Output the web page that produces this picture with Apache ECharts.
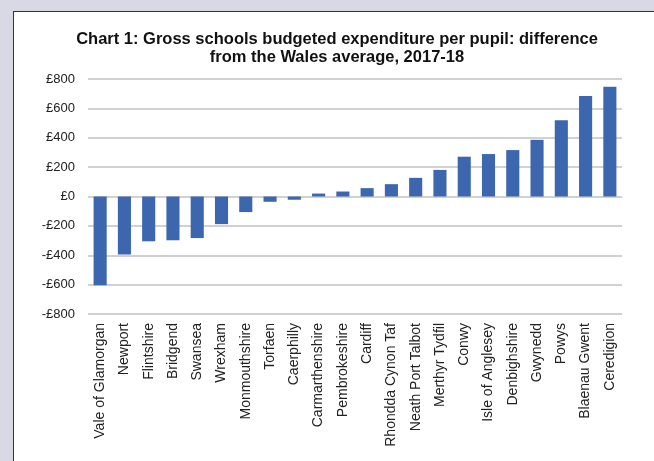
<!DOCTYPE html>
<html><head><meta charset="utf-8">
<script src="https://cdn.jsdelivr.net/npm/echarts@6/dist/echarts.min.js"></script>
<style>
html,body{margin:0;padding:0;width:654px;height:461px;overflow:hidden;background:#d9d9e5;}
#panel{position:absolute;left:13px;top:11px;right:0;bottom:0;background:#fff;border-left:1.5px solid #333;border-top:1.5px solid #333;}
#c{position:absolute;left:0;top:0;width:654px;height:461px;}
</style></head><body>
<div id="panel"></div>
<div id="c"></div>
<script>
const categories = ["Vale of Glamorgan","Newport","Flintshire","Bridgend","Swansea","Wrexham","Monmouthshire","Torfaen","Caerphilly","Carmarthenshire","Pembrokeshire","Cardiff","Rhondda Cynon Taf","Neath Port Talbot","Merthyr Tydfil","Conwy","Isle of Anglesey","Denbighshire","Gwynedd","Powys","Blaenau Gwent","Ceredigion"];
const values = [-605,-395,-305,-298,-283,-188,-106,-36,-22,20,34,57,84,127,181,271,289,316,386,520,685,748];
const titleText = "Chart 1: Gross schools budgeted expenditure per pupil: difference\nfrom the Wales average, 2017-18";
const chart = echarts.init(document.getElementById('c'), null, {renderer:'canvas'});
chart.setOption({
  backgroundColor:'transparent',
  animation:false,
  title:{text:titleText,left:332,top:25,textAlign:'center',
    textStyle:{fontFamily:'Liberation Sans, Arial',fontSize:16.5,fontWeight:'bold',color:'#111',lineHeight:18}},
  grid:{left:88,right:32,top:79,bottom:147,containLabel:false},
  xAxis:{type:'category',data:categories,
    axisLine:{show:false},axisTick:{show:false},
    axisLabel:{rotate:90,interval:0,margin:9,fontFamily:'Liberation Sans, Arial',fontSize:14,color:'#222'}},
  yAxis:{type:'value',min:-800,max:800,interval:200,
    axisLine:{show:false},axisTick:{show:false},
    splitLine:{lineStyle:{color:'#c2c2c2',width:1.6}},
    axisLabel:{margin:13,fontFamily:'Liberation Sans, Arial',fontSize:13,color:'#222',
      formatter:v=> v<0 ? '-£'+Math.abs(v) : '£'+v}},
  series:[{type:'bar',data:values,barWidth:'54%',itemStyle:{color:'#3c67ae'}}]
});
</script></body></html>
